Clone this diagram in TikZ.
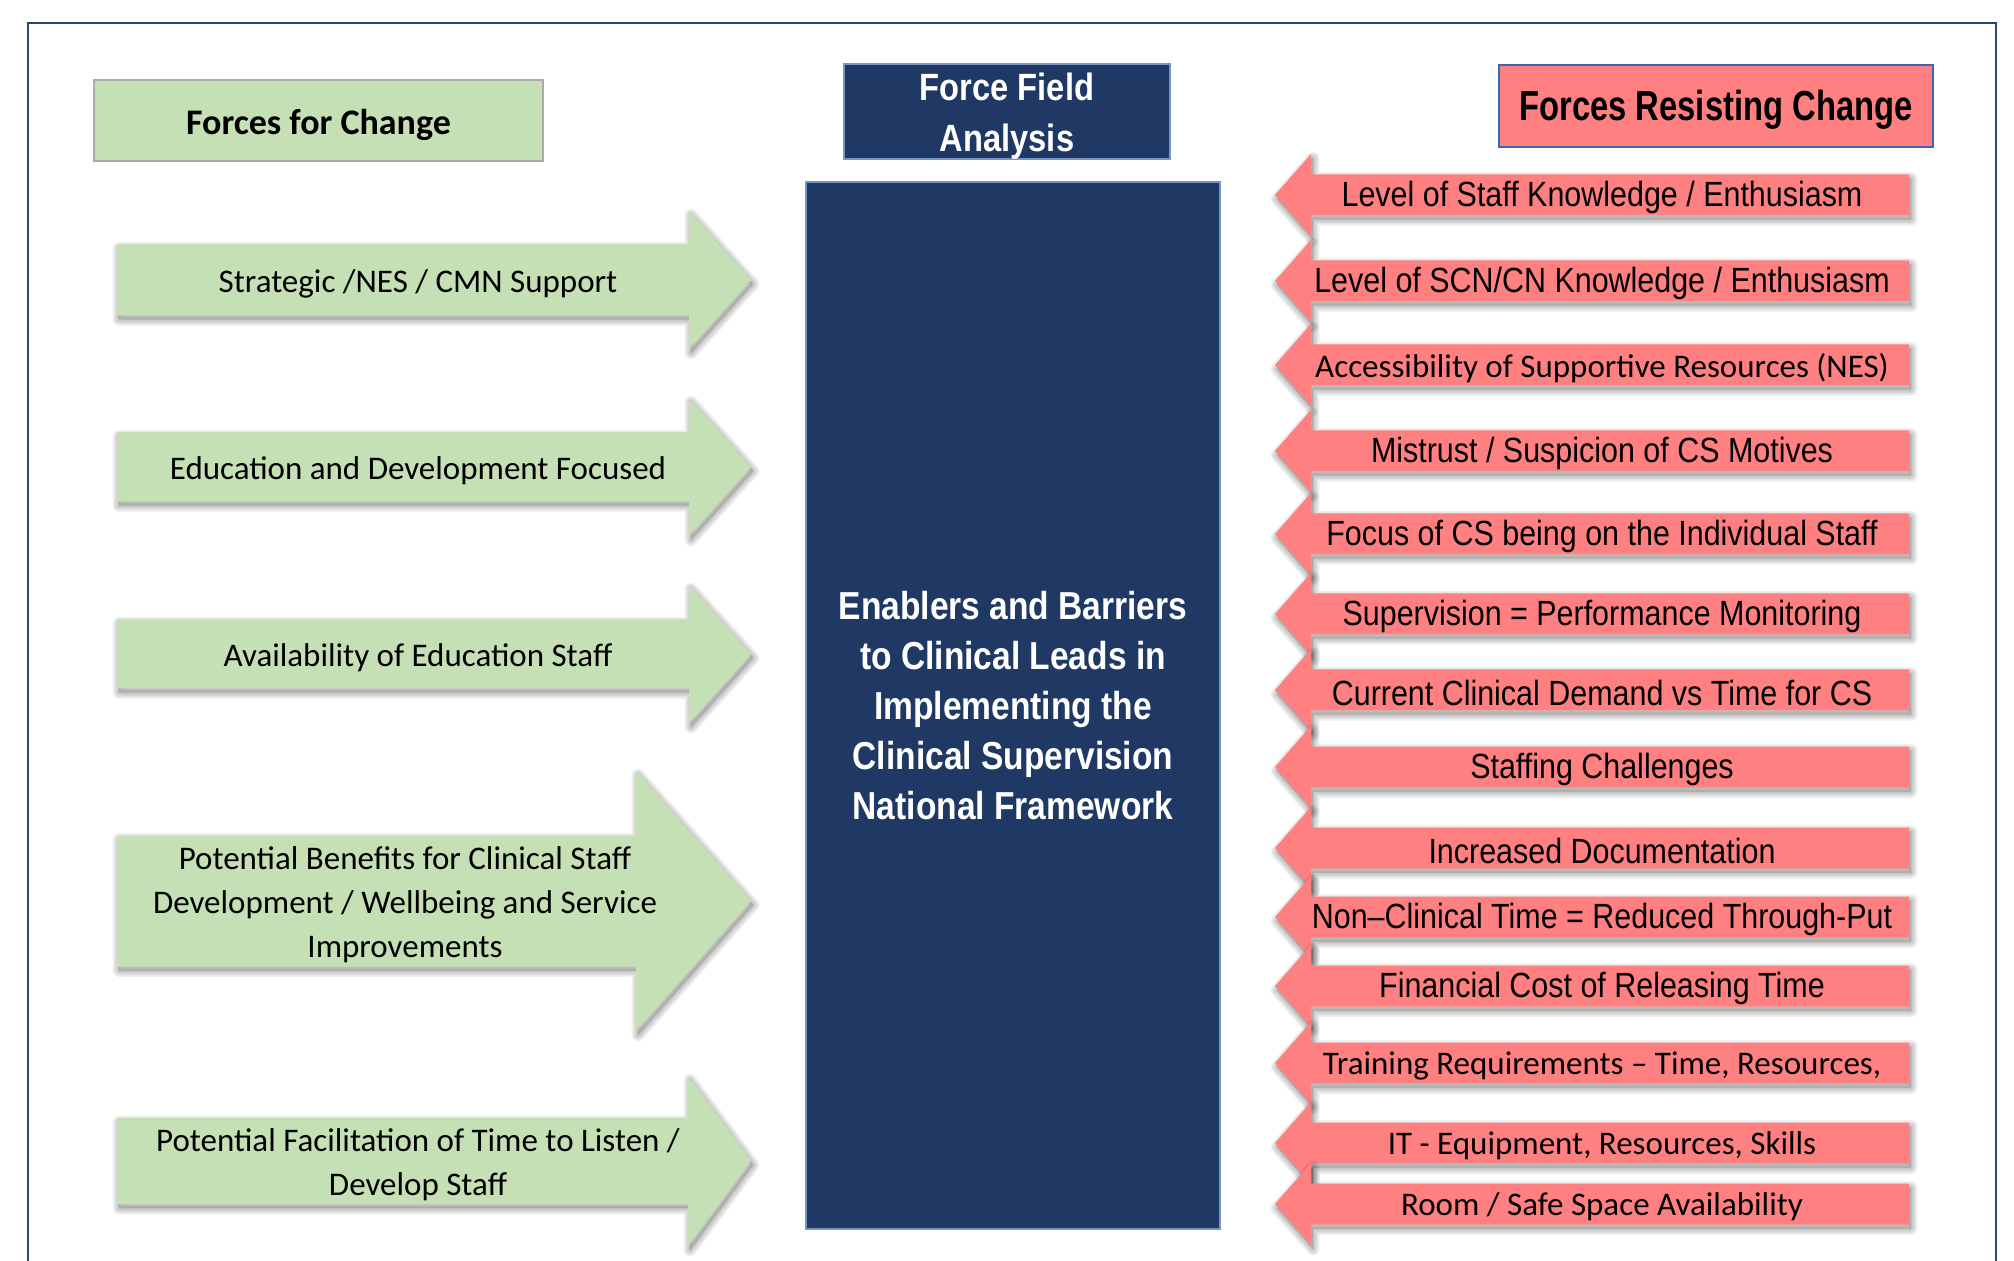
\documentclass[tikz,border=0pt]{standalone}
\usepackage{fontspec}
\setmainfont{Carlito}
\newfontfamily\narrowreg{Liberation Sans}[FakeStretch=0.87]
\newfontfamily\narrowbold{Liberation Sans Bold}[FakeStretch=0.86]
\newfontfamily\narrowtight{Liberation Sans Bold}[FakeStretch=0.78]

\definecolor{forgreen}{RGB}{197,224,180}
\definecolor{againstred}{RGB}{255,128,128}
\definecolor{navy}{RGB}{32,56,100}
\definecolor{navyedge}{RGB}{120,150,195}
\definecolor{framecol}{RGB}{38,70,128}
\definecolor{rededge}{RGB}{60,100,180}
\definecolor{greyedge}{RGB}{170,170,170}

\tikzset{
  shadowlayer/.style={draw=black, draw opacity=0.055, line width=#1, line join=round,
      transform canvas={shift={(1pt,-2pt)}}},
  softshadow/.style={
    preaction={shadowlayer=6.5pt},
    preaction={shadowlayer=5pt},
    preaction={shadowlayer=3.5pt},
    preaction={shadowlayer=2pt},
    preaction={fill=black, fill opacity=0.12, shadowlayer=0.6pt}},
  proarrow/.style={fill=forgreen, softshadow},
  conarrow/.style={fill=againstred, softshadow},
  protext/.style={font=\fontsize{16.5}{22}\selectfont, align=center, inner sep=0pt,
      text=black, yshift=-1.8pt},
  context/.style={inner sep=0pt, text=black, yshift=-1.4pt},
  narrowlabel/.style={context, font=\narrowreg\fontsize{17.5}{21}\selectfont},
  plainlabel/.style={context, font=\fontsize{16.5}{20}\selectfont},
  headbox/.style={inner sep=0pt},
  headtext/.style={inner sep=0pt, align=center, yshift=-2pt}
}

% right-pointing force: name, head base x, centre y, body half-height,
% head half-height, text x, text
\newcommand\proforce[7]{%
  \path[proarrow] (117,{#3-#4}) -- (#2,{#3-#4}) -- (#2,{#3-#5}) -- (751,#3)
    -- (#2,{#3+#5}) -- (#2,{#3+#4}) -- (117,{#3+#4}) -- cycle;
  \node[protext] (#1) at (#6,#3) {#7};
}

% left-pointing force: name, centre y, label style, text
\newcommand\conforce[4]{%
  \path[conarrow] (1909,{#2-20.5}) -- (1311,{#2-20.5}) -- (1311,{#2-41}) -- (1275,#2)
    -- (1311,{#2+41}) -- (1311,{#2+20.5}) -- (1909,{#2+20.5}) -- cycle;
  \node[#3] (#1) at (1602,#2) {#4};
}

\begin{document}
\begin{tikzpicture}[x=0.5pt, y=-0.5pt]
  \useasboundingbox (0,0) rectangle (2014,1261);
  \fill[white] (0,0) rectangle (2014,1261);

  % outer frame (open at the bottom)
  \draw[framecol, line width=1.25pt] (28,1261) -- (28,23) -- (1996,23) -- (1996,1261);

  % headings
  \node[headbox, draw=greyedge, line width=1pt, fill=forgreen,
        minimum width=224.5pt, minimum height=40.5pt] (fortitle) at (318.5,120.5) {};
  \node[headtext, font=\bfseries\fontsize{18}{22}\selectfont] (fortext)
        at (fortitle.center) {Forces for Change};

  \node[headbox, draw=navyedge, line width=0.9pt, fill=navy,
        minimum width=163pt, minimum height=47.5pt] (ffa) at (1007,111.5) {};
  \node[headtext, text=white, font=\narrowbold\fontsize{19}{25.7}\selectfont, yshift=-0.4pt] (ffatext)
        at (ffa.center) {Force Field\\Analysis};

  \node[headbox, draw=rededge, line width=1.2pt, fill=againstred,
        minimum width=217pt, minimum height=41pt] (againsttitle) at (1716,106) {};
  \node[headtext, font=\narrowtight\fontsize{21}{25}\selectfont] (againsttext)
        at (againsttitle.center) {Forces Resisting Change};

  % central field
  \node[headbox, align=center, draw=navyedge, line width=0.9pt, fill=navy, text=white,
        minimum width=207pt, minimum height=523.5pt,
        font=\narrowbold\fontsize{19.5}{25.1}\selectfont] (centre) at (1013,705.5)
        {Enablers and Barriers\\to Clinical Leads in\\Implementing the\\Clinical Supervision\\National Framework};

  % driving forces
  \proforce{p1}{689}{280}{35.5}{69}{418}{Strategic /NES / CMN Support}
  \proforce{p2}{689}{467}{34.5}{69}{418}{Education and Development Focused}
  \proforce{p3}{689}{654}{34.5}{69}{418}{Availability of Education Staff}
  \proforce{p4}{636}{901}{65.5}{130}{405}{Potential Benefits for Clinical Staff\\Development / Wellbeing and Service\\Improvements}
  \proforce{p5}{688}{1161}{43}{85}{418}{Potential Facilitation of Time to Listen /\\Develop Staff}

  % restraining forces
  \conforce{c1}{195}{narrowlabel}{Level of Staff Knowledge / Enthusiasm}
  \conforce{c2}{281}{narrowlabel}{Level of SCN/CN Knowledge / Enthusiasm}
  \conforce{c3}{365}{plainlabel}{Accessibility of Supportive Resources (NES)}
  \conforce{c4}{451}{narrowlabel}{Mistrust / Suspicion of CS Motives}
  \conforce{c5}{534}{narrowlabel}{Focus of CS being on the Individual Staff}
  \conforce{c6}{614}{narrowlabel}{Supervision = Performance Monitoring}
  \conforce{c7}{690}{narrowlabel}{Current Clinical Demand vs Time for CS}
  \conforce{c8}{767}{narrowlabel}{Staffing Challenges}
  \conforce{c9}{848}{narrowlabel}{Increased Documentation}
  \conforce{c10}{917}{narrowlabel}{Non–Clinical Time = Reduced Through-Put}
  \conforce{c11}{986}{narrowlabel}{Financial Cost of Releasing Time}
  \conforce{c12}{1063}{plainlabel}{Training Requirements – Time, Resources,}
  \conforce{c13}{1143}{plainlabel}{IT - Equipment, Resources, Skills}
  \conforce{c14}{1204}{plainlabel}{Room / Safe Space Availability}
\end{tikzpicture}
\end{document}
